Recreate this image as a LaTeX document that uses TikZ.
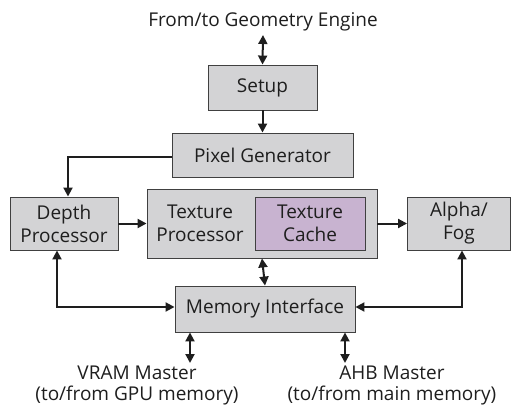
\documentclass[tikz,border=0pt]{standalone}
\usepackage{fontspec}
\setmainfont{Open Sans}
\usepackage{tikz}
\usetikzlibrary{arrows.meta,positioning,calc}
\definecolor{gpuGray}{HTML}{D3D3D5}
\definecolor{gpuLilac}{HTML}{C8B3D0}
\definecolor{gpuEdge}{HTML}{404040}
\definecolor{gpuInk}{HTML}{1E1E1E}
\tikzset{
  block/.style={draw=gpuEdge,fill=gpuGray,line width=.9pt,align=center,
    inner sep=2pt,font=\fontsize{19}{23}\selectfont,text=gpuInk},
  cache/.style={block,fill=gpuLilac},
  caption/.style={align=center,font=\fontsize{19}{21}\selectfont,text=gpuInk},
  flow/.style={-{Triangle[length=9pt,width=9pt]},line width=2pt,gpuInk},
  bus/.style={{Triangle[length=9pt,width=9pt]}-{Triangle[length=9pt,width=9pt]},
    line width=2pt,gpuInk}
}
\begin{document}
\begin{tikzpicture}[x=1pt,y=-1pt]
  \useasboundingbox (0,0) rectangle (512,412);
  % top part
  \node[caption] (geom) at (263,22) {From/to Geometry Engine};
  \node[block,minimum width=109pt,minimum height=45pt] (setup) at (262.5,87.5) {Setup};
  \node[block,minimum width=181pt,minimum height=44pt] (pixgen) at (262.5,155) {Pixel Generator};
  % middle row
  \node[block,minimum width=108pt,minimum height=53pt] (depth) at (64,223.5) {Depth\\Processor};
  \node[block,minimum width=230pt,minimum height=69pt] (texproc) at (262,223.5) {};
  \node[align=center,font=\fontsize{19}{23}\selectfont,text=gpuInk] (texlabel) at (200,223.5)
       {Texture\\Processor};
  \node[cache,minimum width=110pt,minimum height=53pt] (texcache) at (310,223.5) {Texture\\Cache};
  \node[block,minimum width=103pt,minimum height=53pt] (alpha) at (459,223.5) {Alpha/\\Fog};
  % memory side
  \node[block,minimum width=180pt,minimum height=46pt] (memif) at (265,309) {Memory Interface};
  \coordinate (vramend) at (190,363);
  \coordinate (ahbend) at (345,363);
  \node[caption] (vram) at (137,385) {VRAM Master\\(to/from GPU memory)};
  \node[caption] (ahb) at (392,385) {AHB Master\\(to/from main memory)};
  % connectors
  \draw[bus] (263,35) -- (setup.north);
  \draw[flow] (setup) -- (pixgen);
  \draw[flow] ([yshift=-2pt]pixgen.west) -| ([xshift=4pt]depth.north);
  \draw[flow] (depth) -- (texproc);
  \draw[flow] (texproc) -- (alpha);
  \draw[bus] (texproc.south) -- (memif.north);
  \draw[bus] ([xshift=-7pt]depth.south) |- ([yshift=2pt]memif.west);
  \draw[bus] ([xshift=3pt]alpha.south) |- ([yshift=2pt]memif.east);
  \draw[bus] (memif.south -| vramend) -- (vramend);
  \draw[bus] (memif.south -| ahbend) -- (ahbend);
\end{tikzpicture}
\end{document}
